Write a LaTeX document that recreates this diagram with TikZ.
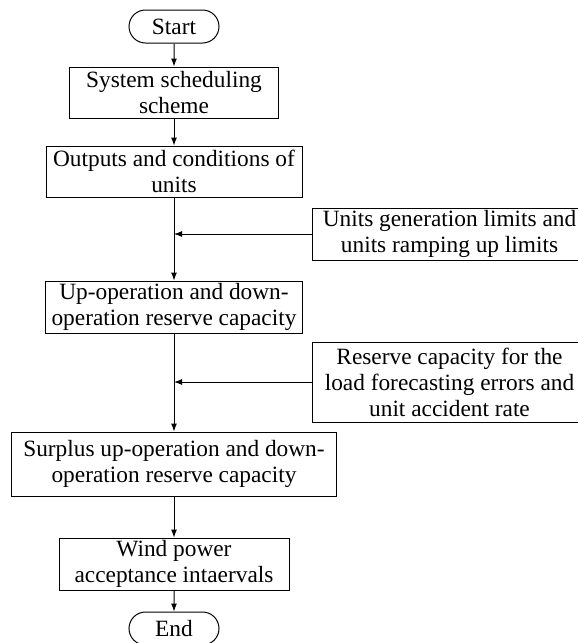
\documentclass[tikz,border=0pt]{standalone}
\usepackage{fontspec}
\setmainfont{Liberation Serif}
\usetikzlibrary{arrows.meta,shapes.misc}
\newlength\pxu
\setlength\pxu{0.75pt}
\begin{document}
\begin{tikzpicture}[x=0.75pt,y=-0.75pt,
  every node/.style={font=\fontsize{17.5pt}{19.5pt}\selectfont, inner sep=0pt, align=center},
  box/.style={draw, line width=0.75pt, rectangle},
  term/.style={draw, line width=0.75pt, rounded rectangle, minimum width=90\pxu, minimum height=33\pxu},
  arr/.style={line width=0.75pt, -{Latex[length=6pt,width=4.5pt]}}]
\useasboundingbox (0,0) rectangle (578,643);
\node[term] (start) at (174,26.5) {Start};
\node[box, minimum width=209\pxu, minimum height=51\pxu] (sys) at (174,92.5) {System scheduling\\scheme};
\node[box, minimum width=256\pxu, minimum height=51\pxu] (out) at (174,171.5) {Outputs and conditions of\\units};
\node[box, minimum width=275\pxu, minimum height=52\pxu] (lim) at (449.5,234) {Units generation limits and\\units ramping up limits};
\node[box, minimum width=257\pxu, minimum height=52\pxu] (up) at (174,307) {Up-operation and down-\\operation reserve capacity};
\node[box, minimum width=275\pxu, minimum height=80\pxu] (res) at (449.5,382) {Reserve capacity for the\\load forecasting errors and\\unit accident rate};
\node[box, minimum width=325\pxu, minimum height=64\pxu] (sur) at (174,464) {Surplus up-operation and down-\\operation reserve capacity};
\node[box, minimum width=230\pxu, minimum height=52\pxu] (wind) at (174,564) {Wind power\\acceptance intaervals};
\node[term] (end) at (174,628.5) {End};
\draw[arr] (start) -- (sys);
\draw[arr] (sys) -- (out);
\draw[arr] (out) -- (up);
\draw[arr] (up) -- (sur);
\draw[arr] (sur) -- (wind);
\draw[arr] (wind) -- (end);
\draw[arr] (lim.west) -- (lim.west -| out.south);
\draw[arr] (res.west) -- (res.west -| up.south);
\end{tikzpicture}
\end{document}
